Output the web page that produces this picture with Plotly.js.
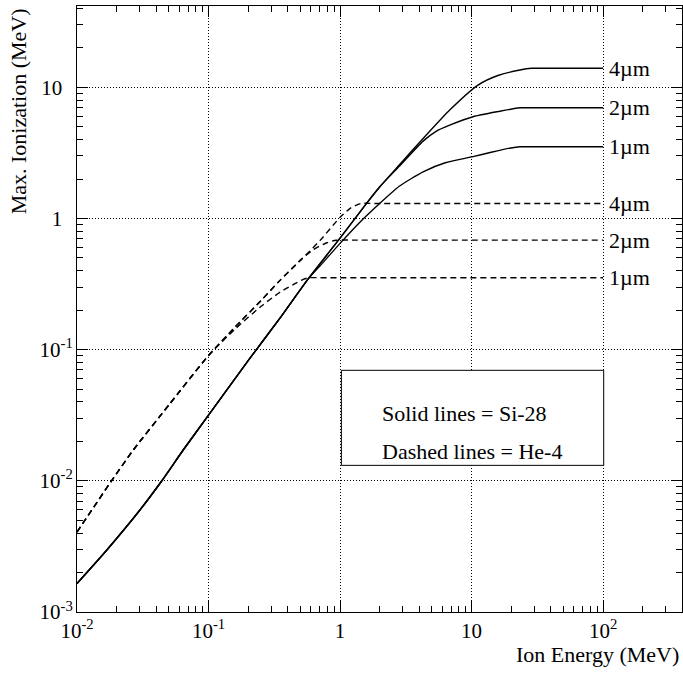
<!DOCTYPE html>
<html><head><meta charset="utf-8">
<script src="https://cdn.plot.ly/plotly-3.0.1.min.js"></script>
<style>html,body{margin:0;padding:0;background:#fff}</style>
</head><body><div id="chart" style="width:683px;height:673px"></div>
<script>
// Si-28 (solid lines): common low-energy part, then one tail per thickness
const siTrunkE = [0.01, 0.0168, 0.030, 0.0439, 0.064, 0.1, 0.206, 0.355, 0.575];
const siTrunkI = [0.00165, 0.00296, 0.00597, 0.00993, 0.0171, 0.0317, 0.0857, 0.178, 0.348];
const si4umTailE = [1.0, 1.585, 2.0, 2.82, 4.28, 6.82, 11.2, 15.85, 23.3, 28.6, 40, 100];
const si4umTailI = [0.708, 1.30, 1.74, 2.56, 4.07, 6.71, 10.4, 12.3, 13.55, 13.96, 13.96, 13.96];
const si2umTailE = [1.0, 1.585, 2.0, 2.82, 4.28, 5.37, 6.82, 10.25, 15.85, 23.3, 32, 100];
const si2umTailI = [0.708, 1.30, 1.74, 2.50, 3.89, 4.62, 5.15, 5.97, 6.53, 6.98, 6.98, 6.98];
const si1umTailE = [0.759, 1.0, 1.41, 2.0, 2.82, 4.28, 6.31, 10.25, 14.1, 19.95, 23.3, 32, 100];
const si1umTailI = [0.473, 0.646, 0.933, 1.30, 1.76, 2.27, 2.66, 2.96, 3.20, 3.45, 3.52, 3.52, 3.52];

// He-4 (dashed lines)
const heTrunkE = [0.01, 0.0183, 0.0267, 0.0501, 0.1];
const heTrunkI = [0.00407, 0.0100, 0.0171, 0.0380, 0.0902];
const he4umTailE = [0.1585, 0.251, 0.351, 0.501, 0.708, 1.0, 1.20, 1.43, 2.0, 100];
const he4umTailI = [0.148, 0.237, 0.339, 0.479, 0.684, 1.02, 1.20, 1.30, 1.30, 1.30];
const he2umTailE = [0.1585, 0.251, 0.351, 0.501, 0.631, 0.794, 0.933, 1.3, 100];
const he2umTailI = [0.148, 0.237, 0.339, 0.484, 0.582, 0.653, 0.683, 0.684, 0.684];
const he1umTailE = [0.1585, 0.251, 0.351, 0.447, 0.525, 0.575, 0.8, 100];
const he1umTailI = [0.143, 0.214, 0.275, 0.316, 0.343, 0.353, 0.353, 0.353];

const thicknessLabels = ['4\u00b5m', '2\u00b5m', '1\u00b5m'];

const xTickVals = [0.01, 0.1, 1, 10, 100];
const xTickText = ['10<sup>-2</sup>', '10<sup>-1</sup>', '1', '10', '10<sup>2</sup>'];
const yTickVals = [0.001, 0.01, 0.1, 1, 10];
const yTickText = ['10<sup>-3</sup>', '10<sup>-2</sup>', '10<sup>-1</sup>', '1\u00a0\u00a0', '10\u00a0\u00a0'];

const FONT = 'Liberation Serif, Times New Roman, serif';

const siSeries = [
  [siTrunkE.concat(si4umTailE), siTrunkI.concat(si4umTailI)],
  [siTrunkE.concat(si2umTailE), siTrunkI.concat(si2umTailI)],
  [siTrunkE.concat(si1umTailE), siTrunkI.concat(si1umTailI)]
];
const heSeries = [
  [heTrunkE.concat(he4umTailE), heTrunkI.concat(he4umTailI)],
  [heTrunkE.concat(he2umTailE), heTrunkI.concat(he2umTailI)],
  [heTrunkE.concat(he1umTailE), heTrunkI.concat(he1umTailI)]
];

const traces = [];
siSeries.forEach(s => traces.push({x: s[0], y: s[1], mode: 'lines',
  line: {color: 'black', width: 1.4, shape: 'spline', smoothing: 0.6}, hoverinfo: 'skip'}));
heSeries.forEach(s => traces.push({x: s[0], y: s[1], mode: 'lines',
  line: {color: 'black', width: 1.4, dash: '6px,4px', shape: 'spline', smoothing: 0.6}, hoverinfo: 'skip'}));

// thickness labels at the end of each plateau
const all = siSeries.concat(heSeries);
const labelAnns = all.map((s, i) => ({
  xref: 'x', yref: 'y',
  x: Math.log10(s[0][s[0].length - 1]), y: Math.log10(s[1][s[1].length - 1]),
  xanchor: 'left', yanchor: 'middle', xshift: 4, showarrow: false,
  text: thicknessLabels[i % 3], font: {family: FONT, size: 22, color: 'black'}
}));

const axisCommon = {
  type: 'log', showline: true, linecolor: 'black', linewidth: 1, mirror: 'allticks',
  ticks: 'inside', ticklen: 11, tickwidth: 1, tickcolor: 'black',
  showgrid: true, gridcolor: 'black', gridwidth: 1, griddash: '1px,2px',
  zeroline: false, tickmode: 'array',
  tickfont: {family: FONT, size: 21, color: 'black'},
  minor: {ticks: 'inside', ticklen: 6, tickcolor: 'black', tickwidth: 1, dtick: 'D1', showgrid: false}
};

const layout = {
  width: 683, height: 673,
  margin: {l: 77, r: 1, t: 6, b: 61},
  paper_bgcolor: 'white', plot_bgcolor: 'white',
  showlegend: false,
  font: {family: FONT, color: 'black'},
  xaxis: Object.assign({}, axisCommon, {range: [-2, 2.6], tickvals: xTickVals, ticktext: xTickText}),
  yaxis: Object.assign({}, axisCommon, {range: [-3, 1.62], tickvals: yTickVals, ticktext: yTickText, ticklabelstandoff: -1}),
  shapes: [{type: 'rect', xref: 'paper', yref: 'paper', x0: 0.437, x1: 0.8706, y0: 0.242, y1: 0.3988,
            line: {color: 'black', width: 1}, fillcolor: 'white'}],
  annotations: labelAnns.concat([
    {xref: 'paper', yref: 'paper', x: 0.5015, y: 0.328, xanchor: 'left', yanchor: 'middle', showarrow: false,
     text: 'Solid lines = Si-28', font: {family: FONT, size: 22, color: 'black'}},
    {xref: 'paper', yref: 'paper', x: 0.5015, y: 0.265, xanchor: 'left', yanchor: 'middle', showarrow: false,
     text: 'Dashed lines = He-4', font: {family: FONT, size: 22, color: 'black'}},
    {xref: 'paper', yref: 'paper', x: 0.999, y: -0.07, xanchor: 'right', yanchor: 'middle', showarrow: false,
     text: 'Ion Energy (MeV)', font: {family: FONT, size: 22, color: 'black'}},
    {xref: 'paper', yref: 'paper', x: -0.097, y: 1.0, xanchor: 'center', yanchor: 'top', showarrow: false, textangle: -90,
     text: 'Max. Ionization (MeV)', font: {family: FONT, size: 22, color: 'black'}}
  ])
};

Plotly.newPlot('chart', traces, layout, {displayModeBar: false, staticPlot: true});
</script>
</body></html>
